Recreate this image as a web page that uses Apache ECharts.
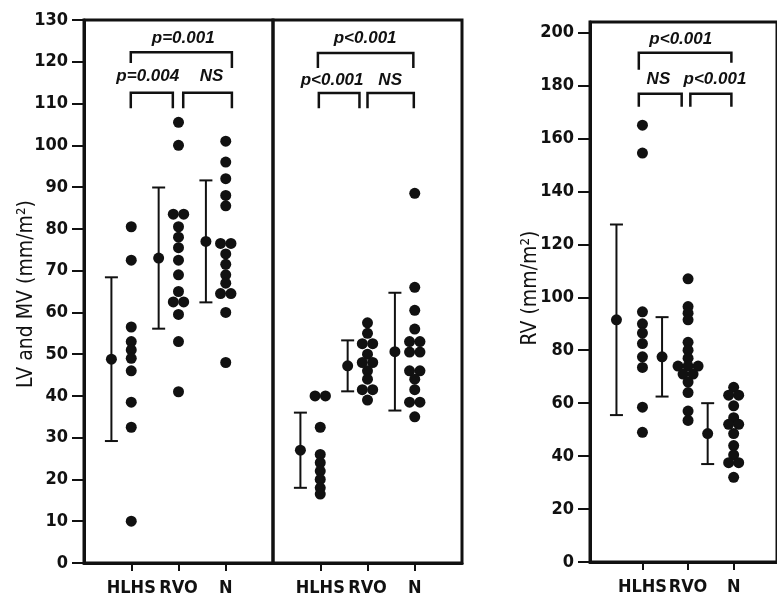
<!DOCTYPE html>
<html><head><meta charset="utf-8">
<script src="https://cdn.jsdelivr.net/npm/echarts@6/dist/echarts.min.js"></script>
<style>html,body{margin:0;padding:0;background:#fff}#c{width:777px;height:602px}</style>
</head><body><div id="c"></div>
<script>
const categories = ['HLHS', 'RVO', 'N'];
// LV (left panel)
const lvHLHS = [80.5, 72.5, 56.5, 53, 51, 49, 46, 38.5, 32.5, 10];
const lvRVO = [105.5, 100, 83.5, 83.5, 80.5, 78, 75.5, 72.5, 69, 65, 62.5, 62.5, 59.5, 53, 41];
const lvN = [101, 96, 92, 88, 85.5, 76.5, 76.5, 74, 71.5, 69, 67, 64.5, 64.5, 60, 48];
const lvMean = [48.8, 73, 77];
const lvSD = [19.6, 16.9, 14.6];
// MV (middle panel)
const mvHLHS = [40, 40, 32.5, 26, 24, 22, 20, 18, 16.5];
const mvRVO = [57.5, 55, 52.5, 52.5, 50, 48, 48, 46, 44, 41.5, 41.5, 39];
const mvN = [88.5, 66, 60.5, 56, 53, 53, 50.5, 50.5, 46, 46, 44, 41.5, 38.5, 38.5, 35];
const mvMean = [27, 47.2, 50.6];
const mvSD = [9, 6.1, 14.1];
// RV (right panel)
const rvHLHS = [165, 154.5, 94.5, 90, 86.5, 82.5, 77.5, 73.5, 58.5, 49];
const rvRVO = [107, 96.5, 94, 91.5, 83, 80, 77, 74, 74, 74, 71, 71, 68, 64, 57, 53.5];
const rvN = [66, 63, 63, 59, 54.5, 52, 52, 48.5, 44, 40.5, 37.5, 37.5, 32];
const rvMean = [91.5, 77.5, 48.5];
const rvSD = [36, 15, 11.5];
// axis titles
const titleLeft = 'LV and MV (mm/m²)';
const titleRight = 'RV (mm/m²)';
// significance annotations per panel
const sigLeft = ['p=0.001', 'p=0.004', 'NS'];
const sigMid = ['p<0.001', 'p<0.001', 'NS'];
const sigRight = ['p<0.001', 'NS', 'p<0.001'];

const panels = [
  {groups: [lvHLHS, lvRVO, lvN], mean: lvMean, sd: lvSD, barOff: 0.42, sig: sigLeft,
   br: [[0.99, 3.13, 122.3, 119.7, 118.5], [0.99, 1.88, 112.6, 108.9, 108.9], [2.1, 3.13, 112.6, 108.9, 108.9]],
   tx: [[2.1, 125.6], [1.35, 116.4], [2.7, 116.4]]},
  {groups: [mvHLHS, mvRVO, mvN], mean: mvMean, sd: mvSD, barOff: 0.42, sig: sigMid,
   br: [[0.95, 2.97, 122.1, 118.5, 118.5], [0.97, 1.83, 112.5, 108.9, 108.9], [2.0, 2.98, 112.5, 108.9, 108.9]],
   tx: [[1.95, 125.6], [1.25, 115.6], [2.48, 115.6]]},
  {groups: [rvHLHS, rvRVO, rvN], mean: rvMean, sd: rvSD, barOff: 0.57, sig: sigRight,
   br: [[0.92, 2.95, 192.4, 186, 188.6], [0.92, 1.86, 176.9, 172, 172], [2.05, 2.95, 176.9, 172, 172]],
   tx: [[1.84, 197.3], [1.35, 182.2], [2.59, 182.2]]}
];

const BLACK = '#111';
const FAMILY = '"DejaVu Sans Condensed", "DejaVu Sans", sans-serif';
const tickFont = {fontFamily: 'DejaVu Sans Condensed, DejaVu Sans', fontWeight: 'bold', fontSize: 18, color: BLACK};

function dots(groups) {
  const out = [];
  groups.forEach((vals, g) => {
    const counts = {};
    vals.forEach(v => counts[v] = (counts[v] || 0) + 1);
    const seen = {};
    vals.forEach(v => {
      const k = counts[v], i = seen[v] || 0;
      seen[v] = i + 1;
      const off = (i - (k - 1) / 2) * 0.22;
      out.push([g + 1 + off, v]);
    });
  });
  return out;
}

const grids = [
  {left: 84, top: 20, width: 189, height: 543},
  {left: 273, top: 20, width: 189, height: 543},
  {left: 590, top: 22, width: 192, height: 540}
].map(g => Object.assign(g, {show: true, borderColor: BLACK, borderWidth: 3, backgroundColor: 'transparent'}));

const xAxes = [0, 1, 2].map(i => ({
  type: 'value', gridIndex: i,
  min: i === 2 ? -0.15 : 0, max: i === 2 ? 3.95 : 4,
  axisLine: {show: true, onZero: false, lineStyle: {color: BLACK, width: 3}},
  axisTick: {show: true, customValues: [1, 2, 3], length: 8, lineStyle: {color: BLACK, width: 2}},
  axisLabel: Object.assign({customValues: [1, 2, 3], margin: 16, formatter: v => categories[Math.round(v) - 1] || ''}, tickFont),
  splitLine: {show: false}
}));

const rightTicks = [];
for (let v = 0; v <= 200; v += 20) rightTicks.push(v);

const yAxes = [
  {type: 'value', gridIndex: 0, min: 0, max: 130, interval: 10,
   axisLine: {show: true, onZero: false, lineStyle: {color: BLACK, width: 3}},
   axisTick: {show: true, length: 12, lineStyle: {color: BLACK, width: 2}},
   axisLabel: Object.assign({margin: 16}, tickFont), splitLine: {show: false}},
  {type: 'value', gridIndex: 1, min: 0, max: 130, interval: 10,
   axisLine: {show: false}, axisTick: {show: false}, axisLabel: {show: false}, splitLine: {show: false}},
  {type: 'value', gridIndex: 2, min: 0, max: 204,
   axisLine: {show: true, onZero: false, lineStyle: {color: BLACK, width: 3}},
   axisTick: {show: true, customValues: rightTicks, length: 12, lineStyle: {color: BLACK, width: 2}},
   axisLabel: Object.assign({customValues: rightTicks, margin: 16}, tickFont), splitLine: {show: false}}
];

const series = [];
panels.forEach((p, i) => {
  series.push({
    type: 'scatter', xAxisIndex: i, yAxisIndex: i, symbolSize: 11,
    itemStyle: {color: BLACK, opacity: 1}, data: dots(p.groups), silent: true, z: 3
  });
  series.push({
    type: 'custom', xAxisIndex: i, yAxisIndex: i, silent: true, z: 3,
    data: p.mean.map((m, g) => [g + 1 - p.barOff, m, p.sd[g]]),
    renderItem: (params, api) => {
      const x = api.value(0), m = api.value(1), s = api.value(2);
      const top = api.coord([x, m + s]), bot = api.coord([x, m - s]), mid = api.coord([x, m]);
      const st = {stroke: BLACK, lineWidth: 2};
      return {type: 'group', children: [
        {type: 'line', shape: {x1: top[0], y1: top[1], x2: bot[0], y2: bot[1]}, style: st},
        {type: 'line', shape: {x1: top[0] - 6.5, y1: top[1], x2: top[0] + 6.5, y2: top[1]}, style: st},
        {type: 'line', shape: {x1: bot[0] - 6.5, y1: bot[1], x2: bot[0] + 6.5, y2: bot[1]}, style: st},
        {type: 'circle', shape: {cx: mid[0], cy: mid[1], r: 5.5}, style: {fill: BLACK}}
      ]};
    }
  });
  series.push({
    type: 'custom', xAxisIndex: i, yAxisIndex: i, silent: true, z: 4,
    data: p.br.map((b, k) => b.concat(p.tx[k])),
    renderItem: (params, api) => {
      const k = params.dataIndex;
      const x1 = api.value(0), x2 = api.value(1), yt = api.value(2), y1 = api.value(3), y2 = api.value(4);
      const a = api.coord([x1, y1]), b = api.coord([x1, yt]), c = api.coord([x2, yt]), d = api.coord([x2, y2]);
      const t = api.coord([api.value(5), api.value(6)]);
      return {type: 'group', children: [
        {type: 'polyline', shape: {points: [a, b, c, d]}, style: {stroke: BLACK, lineWidth: 2.5, fill: null}},
        {type: 'text', x: t[0], y: t[1], style: {text: p.sig[k], fill: BLACK, align: 'center', verticalAlign: 'middle',
          font: 'italic bold 17px "Liberation Sans", Arial, sans-serif'}}
      ]};
    }
  });
});

const chart = echarts.init(document.getElementById('c'), null, {renderer: 'canvas'});
chart.setOption({
  backgroundColor: '#fff', animation: false,
  grid: grids, xAxis: xAxes, yAxis: yAxes, series: series,
  graphic: [
    {type: 'text', x: 27, y: 294, rotation: Math.PI / 2,
     style: {text: titleLeft, fill: BLACK, font: '21px ' + FAMILY, align: 'center', verticalAlign: 'middle'}},
    {type: 'text', x: 531, y: 288, rotation: Math.PI / 2,
     style: {text: titleRight, fill: BLACK, font: '21px ' + FAMILY, align: 'center', verticalAlign: 'middle'}}
  ]
});
</script>
</body></html>
